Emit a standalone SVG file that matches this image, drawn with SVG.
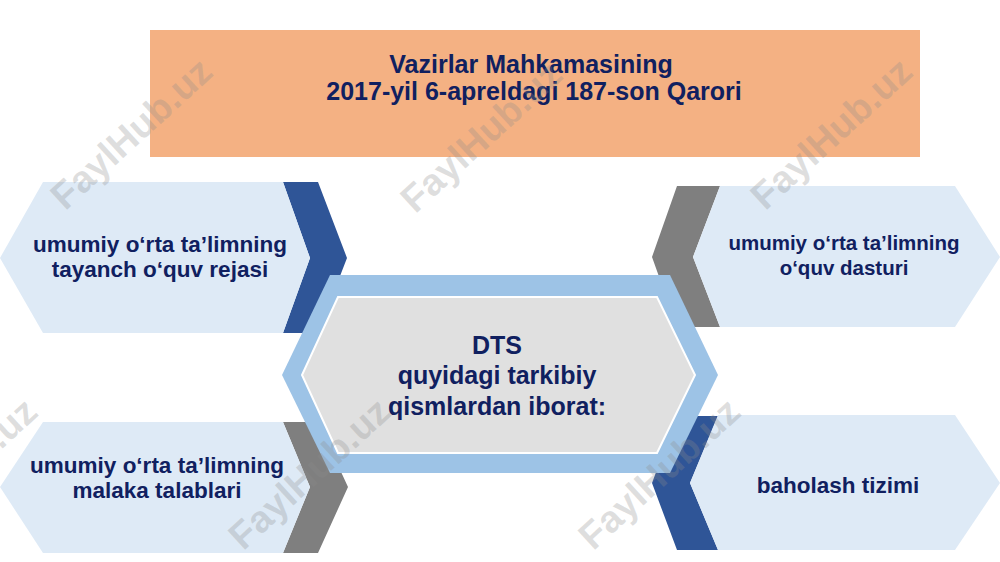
<svg xmlns="http://www.w3.org/2000/svg" width="1000" height="562" viewBox="0 0 1000 562">
<style>
.t{font-family:"Liberation Sans",Arial,sans-serif;font-weight:bold;fill:#102060;text-anchor:middle}
.title{font-size:25px}
.light{fill:#DEEAF6}
.dark{fill:#2F5597}
.gray{fill:#7F7F7F}
.wm{font-family:"Liberation Sans",Arial,sans-serif;font-weight:bold;font-size:38px;fill:#8C8C8C;fill-opacity:0.28;text-anchor:middle}
</style>
<rect width="1000" height="562" fill="#FFFFFF"/>
<g id="title">
<rect x="150" y="30" width="770" height="127" fill="#F4B183"/>
<text class="t title" x="531" y="73">Vazirlar Mahkamasining</text>
<text class="t title" x="534" y="100">2017-yil 6-apreldagi 187-son Qarori</text>
</g>
<g id="connectors">
<polygon class="dark" points="283,182 318,182 347,258 318,333 283,333 310,258"/>
<polygon class="gray" points="677,186 720,186 693,257 720,327 677,327 652,257"/>
<polygon class="gray" points="283,422 318,422 348,487 318,553 283,553 310,487"/>
<polygon class="dark" points="677,416 718,416 690,483 718,550 677,550 652,483"/>
</g>
<g id="node-tl">
<polygon class="light" points="43,182 283,182 310,258 283,333 43,333 0,258"/>
<text class="t" font-size="22.5" x="160" y="252">umumiy o‘rta ta’limning</text>
<text class="t" font-size="22.5" x="160" y="277">tayanch o‘quv rejasi</text>
</g>
<g id="node-tr">
<polygon class="light" points="720,186 955,186 1000,257 955,327 720,327 693,257"/>
<text class="t" font-size="20.5" x="844" y="250">umumiy o‘rta ta’limning</text>
<text class="t" font-size="20.5" x="844" y="275">o‘quv dasturi</text>
</g>
<g id="node-bl">
<polygon class="light" points="43,422 283,422 310,487 283,553 43,553 0,487"/>
<text class="t" font-size="22.5" x="157" y="473">umumiy o‘rta ta’limning</text>
<text class="t" font-size="22.5" x="157" y="498">malaka talablari</text>
</g>
<g id="node-br">
<polygon class="light" points="718,415 955,415 1000,483 955,550 718,550 690,483"/>
<text class="t" font-size="22.5" x="838" y="493">baholash tizimi</text>
</g>
<g id="node-center">
<polygon fill="#9DC3E6" points="330,275 670,275 718,375 670,473 330,473 282,375"/>
<polygon fill="#E0E0E0" stroke="#FFFFFF" stroke-width="2" points="338,297 657,297 695,375 657,453 338,453 302,375"/>
<text class="t" font-size="25" x="497" y="354">DTS</text>
<text class="t" font-size="25" x="497" y="384">quyidagi tarkibiy</text>
<text class="t" font-size="25" x="497" y="415">qismlardan iborat:</text>
</g>
<g id="watermarks">
<text class="wm" transform="translate(140,143) rotate(-42.5)">FaylHub.uz</text>
<text class="wm" transform="translate(490,146) rotate(-42.5)">FaylHub.uz</text>
<text class="wm" transform="translate(840,143) rotate(-42.5)">FaylHub.uz</text>
<text class="wm" transform="translate(-35,483) rotate(-42.5)">FaylHub.uz</text>
<text class="wm" transform="translate(318,483) rotate(-42.5)">FaylHub.uz</text>
<text class="wm" transform="translate(668,483) rotate(-42.5)">FaylHub.uz</text>
</g>
</svg>
